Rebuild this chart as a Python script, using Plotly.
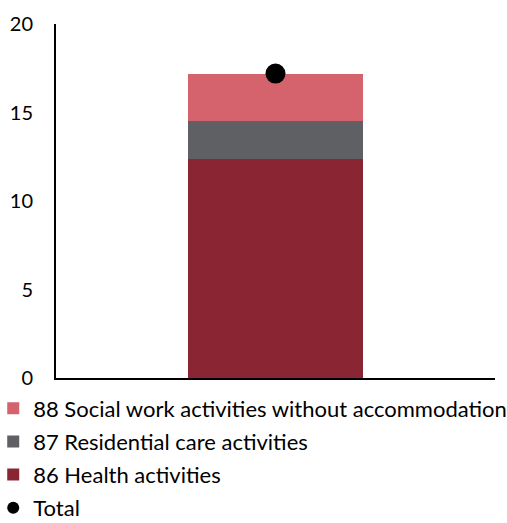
import plotly.graph_objects as go

categories = ["Q"]
health = [12.4]
residential = [2.1]
social = [2.7]
total = [17.2]

series_names = ["86 Health activities", "87 Residential care activities",
                "88 Social work activities without accommodation"]
colors = ["#8A2633", "#5F6063", "#D5636E"]

fig = go.Figure()
for name, vals, col, rank in zip(series_names, [health, residential, social], colors, [3, 2, 1]):
    fig.add_trace(go.Bar(x=categories, y=vals, name=name, marker_color=col,
                         marker_line_width=0, width=0.4, legendrank=rank,
                         legendgroup=name))
fig.add_trace(go.Scatter(x=categories, y=total, name="Total", mode="markers",
                         marker=dict(color="black", size=20), legendrank=4,
                         legendgroup="Total"))

font_family = "Lato, 'Gill Sans', sans-serif"
fig.update_layout(
    width=507, height=523,
    barmode="stack",
    plot_bgcolor="white", paper_bgcolor="white",
    margin=dict(l=56, r=12, t=24, b=145, autoexpand=False),
    font=dict(family=font_family, size=20, color="black"),
    showlegend=True,
    legend=dict(x=-0.143, y=-0.027, xanchor="left", yanchor="top",
                traceorder="grouped", font=dict(size=22), itemwidth=30,
                tracegroupgap=1.5, itemsizing="constant",
                bgcolor="rgba(0,0,0,0)"),
    xaxis=dict(showline=True, linecolor="black", linewidth=2, showgrid=False,
               showticklabels=False, range=[-0.5, 0.5], zeroline=False),
    yaxis=dict(showline=True, linecolor="black", linewidth=2, showgrid=False,
               range=[0, 20], tickvals=[0, 5, 10, 15, 20], zeroline=False,
               ticklabelstandoff=17, tickfont=dict(size=20)),
)
fig.write_html("out.html")
